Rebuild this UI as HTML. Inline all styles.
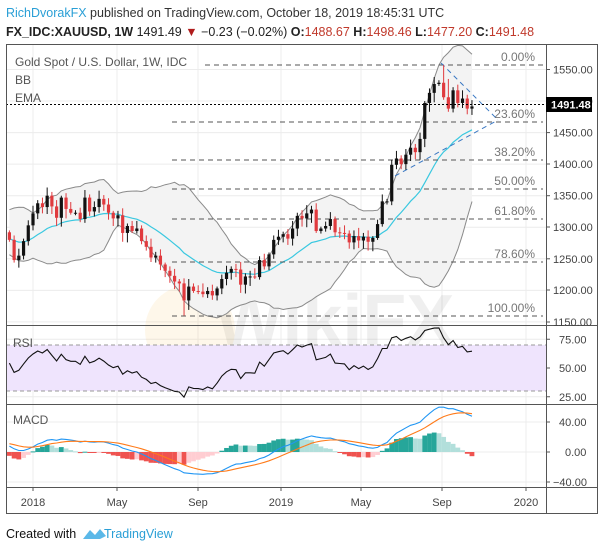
<!DOCTYPE html>
<html><head><meta charset="utf-8"><style>
html,body{margin:0;padding:0;background:#fff;width:605px;height:551px;overflow:hidden;font-family:"Liberation Sans",sans-serif}
svg{position:absolute;left:0;top:0}
</style></head><body>
<svg id="s" width="605" height="551" xmlns="http://www.w3.org/2000/svg" font-family="Liberation Sans, sans-serif"></svg>
<script>
var pre=[1230,1222,1215,1233,1251,1257,1265,1270,1288,1290,1325,1340,1320,1297,1277,1281,1273,1296,1302,1275,1289,1296,1280,1294,1277,1292];
var main=[1280,1248,1255,1278,1303,1322,1338,1332,1350,1333,1315,1347,1329,1323,1323,1313,1347,1325,1332,1345,1336,1323,1314,1319,1291,1302,1294,1298,1278,1269,1252,1255,1241,1231,1223,1214,1211,1184,1206,1199,1198,1194,1199,1192,1203,1218,1228,1234,1233,1209,1222,1222,1221,1248,1238,1257,1280,1285,1289,1282,1298,1318,1314,1322,1328,1294,1298,1302,1313,1292,1291,1290,1276,1286,1279,1285,1277,1283,1305,1341,1341,1399,1409,1400,1415,1426,1419,1440,1497,1513,1527,1529,1506,1488,1517,1497,1504,1488,1491.48];
var all=pre.concat(main),P=pre.length,N=main.length;
function X(i){return 9.4+i*4.72}
function Y(p){return 69.5+(1550-p)*0.631}
function RY(v){return 368-(v-50)*1.15}
function MY(v){return 452-v*0.75}
var s='';
var gx=[33,117,198,281,361,442,526];
gx.forEach(function(x){s+='<line x1="'+x+'" y1="44" x2="'+x+'" y2="487" stroke="#ececec"/>';s+='<line x1="'+x+'" y1="487" x2="'+x+'" y2="491" stroke="#555"/>';});
[1550,1500,1450,1400,1350,1300,1250,1200,1150].forEach(function(p){s+='<line x1="6" y1="'+Y(p)+'" x2="546" y2="'+Y(p)+'" stroke="#ececec"/>';});
[75,50,25].forEach(function(v){s+='<line x1="6" y1="'+RY(v)+'" x2="546" y2="'+RY(v)+'" stroke="#ececec"/>';});
[40,0,-40].forEach(function(v){s+='<line x1="6" y1="'+MY(v)+'" x2="546" y2="'+MY(v)+'" stroke="#ececec"/>';});
s+='<text x="215" y="345" font-size="72" font-weight="bold" fill="#000" opacity="0.06">WikiFX</text>';
s+='<circle cx="190" cy="330" r="45" fill="#f2b233" opacity="0.1"/>';
var ema=[],k=2/21,e=all[0];
for(var i=0;i<all.length;i++){e=i?all[i]*k+e*(1-k):all[i];ema.push(e);}
var up=[],lo=[];
for(var i=0;i<all.length;i++){var a=Math.max(0,i-19),sm=0,n=0;for(var j=a;j<=i;j++){sm+=all[j];n++;}var m=sm/n,v=0;for(var j=a;j<=i;j++)v+=(all[j]-m)*(all[j]-m);var sd=Math.sqrt(v/n);up.push(m+2*sd);lo.push(m-2*sd);}
var pu='',pl='',pe='';
for(var i=0;i<N;i++){var g=P+i;pu+=(i?'L':'M')+X(i).toFixed(1)+' '+Y(up[g]).toFixed(1);pe+=(i?'L':'M')+X(i).toFixed(1)+' '+Y(ema[g]).toFixed(1);}
for(var i=N-1;i>=0;i--){pl+='L'+X(i).toFixed(1)+' '+Y(lo[P+i]).toFixed(1);}
s+='<path d="'+pu+pl+'Z" fill="#f3f3f3"/>';
s+='<path d="'+pu+'" fill="none" stroke="#8a8a8a"/>';
s+='<path d="M'+pl.slice(1)+'" fill="none" stroke="#8a8a8a"/>';
s+='<path d="'+pe+'" fill="none" stroke="#3ac8e0" stroke-width="1.2"/>';
var fib=[[65,'0.00%'],[122,'23.60%'],[160,'38.20%'],[189,'50.00%'],[219,'61.80%'],[262,'78.60%'],[316,'100.00%']];
fib.forEach(function(f,ix){s+='<line x1="'+(ix==0?205:172)+'" y1="'+f[0]+'" x2="543" y2="'+f[0]+'" stroke="#555" stroke-dasharray="5,4"/>';s+='<text x="535" y="'+(f[0]-4)+'" font-size="12" fill="#777" text-anchor="end">'+f[1]+'</text>';});
s+='<line x1="441" y1="63" x2="498" y2="120" stroke="#3a78c3" stroke-dasharray="5,4"/>';
s+='<line x1="395" y1="176" x2="498" y2="120" stroke="#3a78c3" stroke-dasharray="5,4"/>';
for(var i=0;i<N;i++){var o=all[P+i-1],c=all[P+i];var h=Math.max(o,c)+3+(i*37)%11,l=Math.min(o,c)-3-(i*53)%13;
if(i==37)l=1160;if(i==92)h=1557;if(i==2)l=1236;if(i==93)h=1535;
var col=c>=o?'#111':'#e03a3e';var x=X(i);
s+='<line x1="'+x+'" y1="'+Y(h)+'" x2="'+x+'" y2="'+Y(l)+'" stroke="'+col+'"/>';
var t=Y(Math.max(o,c)),b=Y(Math.min(o,c));if(b-t<1)b=t+1;
s+='<rect x="'+(x-1.6)+'" y="'+t+'" width="3.2" height="'+(b-t)+'" fill="'+col+'"/>';}
s+='<line x1="6" y1="104.5" x2="546" y2="104.5" stroke="#000" stroke-dasharray="2,2"/>';
s+='<rect x="6" y="'+RY(70)+'" width="540" height="'+(RY(30)-RY(70))+'" fill="#efe4fd"/>';
s+='<line x1="6" y1="'+RY(70)+'" x2="546" y2="'+RY(70)+'" stroke="#999" stroke-dasharray="4,3"/>';
s+='<line x1="6" y1="'+RY(30)+'" x2="546" y2="'+RY(30)+'" stroke="#999" stroke-dasharray="4,3"/>';
var ag=0,al=0,rs=[];
for(var i=1;i<all.length;i++){var d=all[i]-all[i-1],gg=Math.max(d,0),ll=Math.max(-d,0);if(i<=14){ag+=gg/14;al+=ll/14;}else{ag=(ag*13+gg)/14;al=(al*13+ll)/14;}rs[i]=100-100/(1+ag/(al||1e-9));}
var pr='';for(var i=0;i<N;i++){pr+=(i?'L':'M')+X(i).toFixed(1)+' '+RY(rs[P+i]).toFixed(1);}
s+='<path d="'+pr+'" fill="none" stroke="#111" stroke-width="1.1"/>';
var e12=all[0],e26=all[0],mc=[],sg=[],sgv=0;
for(var i=0;i<all.length;i++){e12=i?all[i]*2/13+e12*11/13:all[i];e26=i?all[i]*2/27+e26*25/27:all[i];mc.push(e12-e26);sgv=i?mc[i]*0.2+sgv*0.8:mc[i];sg.push(sgv);}
for(var i=0;i<N;i++){var g=P+i,hv=mc[g]-sg[g],hp=mc[g-1]-sg[g-1],col;
if(hv>=0)col=hv>=hp?'#26a69a':'#b2dfdb';else col=hv<hp?'#ef5350':'#ffcdd2';
var y0=MY(0),y1=MY(hv*1.6);s+='<rect x="'+(X(i)-2.4)+'" y="'+Math.min(y0,y1)+'" width="4.8" height="'+Math.max(1,Math.abs(y1-y0))+'" fill="'+col+'"/>';}
var pm='',ps='';for(var i=0;i<N;i++){pm+=(i?'L':'M')+X(i).toFixed(1)+' '+MY(mc[P+i]).toFixed(1);ps+=(i?'L':'M')+X(i).toFixed(1)+' '+MY(sg[P+i]).toFixed(1);}
s+='<path d="'+pm+'" fill="none" stroke="#2196f3" stroke-width="1.1"/>';
s+='<path d="'+ps+'" fill="none" stroke="#ff7b1a" stroke-width="1.1"/>';
s+='<rect x="6.5" y="44.5" width="591" height="469" fill="none" stroke="#555"/>';
s+='<line x1="546.5" y1="44" x2="546.5" y2="513" stroke="#555"/>';
[325.5,404.5,487.5].forEach(function(y){s+='<line x1="6" y1="'+y+'" x2="598" y2="'+y+'" stroke="#555"/>';});
[[1550,69.5],[1450,132.6],[1400,164],[1350,195.7],[1300,227],[1250,258.8],[1200,290],[1150,322]].forEach(function(p){s+='<line x1="546" y1="'+p[1]+'" x2="550" y2="'+p[1]+'" stroke="#555"/><text x="553" y="'+(p[1]+4)+'" font-size="11" fill="#444">'+p[0]+'.00</text>';});
s+='<text x="553" y="105" font-size="11" fill="#444">1500.00</text>';
s+='<rect x="546" y="97" width="46" height="15" fill="#000"/><text x="551" y="108.5" font-size="11" font-weight="bold" fill="#fff">1491.48</text>';
[[75,'75.00'],[50,'50.00'],[25,'25.00']].forEach(function(p){s+='<line x1="546" y1="'+RY(p[0])+'" x2="550" y2="'+RY(p[0])+'" stroke="#555"/><text x="559" y="'+(RY(p[0])+4)+'" font-size="11" fill="#444">'+p[1]+'</text>';});
[[40,'40.00',559],[0,'0.00',565],[-40,'\u221240.00',553]].forEach(function(p){s+='<line x1="546" y1="'+MY(p[0])+'" x2="550" y2="'+MY(p[0])+'" stroke="#555"/><text x="'+p[2]+'" y="'+(MY(p[0])+4)+'" font-size="11" fill="#444">'+p[1]+'</text>';});
[['2018',33],['May',117],['Sep',198],['2019',281],['May',361],['Sep',442],['2020',526]].forEach(function(t){s+='<text x="'+t[1]+'" y="506" font-size="11" fill="#444" text-anchor="middle">'+t[0]+'</text>';});
s+='<text x="15" y="66" font-size="12" fill="#555">Gold Spot / U.S. Dollar, 1W, IDC</text>';
s+='<text x="15" y="84" font-size="12" fill="#555">BB</text>';
s+='<text x="15" y="102" font-size="12" fill="#555">EMA</text>';
s+='<text x="13" y="347" font-size="12" fill="#555">RSI</text>';
s+='<text x="13" y="424" font-size="12" fill="#555">MACD</text>';
s+='<text x="6" y="17" font-size="12.5" fill="#333"><tspan fill="#2a9fd6">RichDvorakFX</tspan> published on TradingView.com, October 18, 2019 18:45:31 UTC</text>';
s+='<text x="6" y="36" font-size="12.5" fill="#222"><tspan font-weight="bold">FX_IDC:XAUUSD, 1W</tspan> 1491.49 <tspan fill="#b01c1c">\u25BC</tspan> \u22120.23 (\u22120.02%) <tspan font-weight="bold">O:</tspan><tspan fill="#c0392b">1488.67</tspan> <tspan font-weight="bold">H:</tspan><tspan fill="#c0392b">1498.46</tspan> <tspan font-weight="bold">L:</tspan><tspan fill="#c0392b">1477.20</tspan> <tspan font-weight="bold">C:</tspan><tspan fill="#c0392b">1491.48</tspan></text>';
s+='<text x="6" y="538" font-size="12.5" fill="#111">Created with</text>';
s+='<path d="M83 539 L90 530 L95 535 L100 529 L106 536 L100 539 Z" fill="#5bb8e8"/>';
s+='<text x="104" y="538" font-size="12.5" fill="#2a9fd6">TradingView</text>';
document.getElementById('s').innerHTML=s;
</script>
</body></html>
